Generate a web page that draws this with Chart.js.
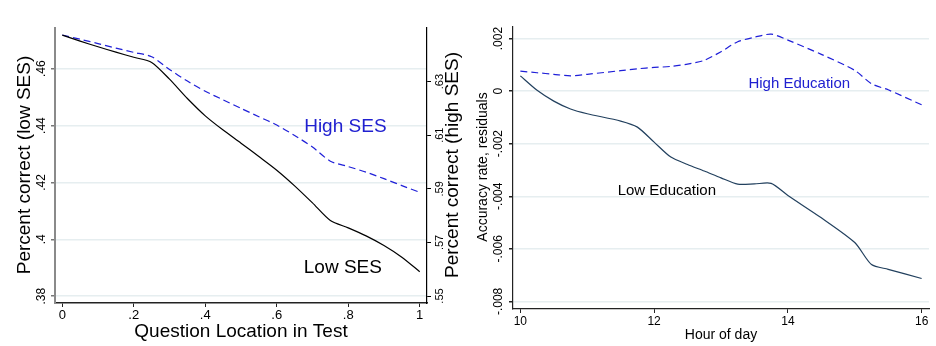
<!DOCTYPE html>
<html>
<head>
<meta charset="utf-8">
<script src="https://cdn.jsdelivr.net/npm/chart.js@4.4.1/dist/chart.umd.min.js"></script>
<style>
  body { margin: 0; background: #fff; }
  #wrap { position: relative; width: 936px; height: 346px; }
  canvas { position: absolute; top: 0; }
</style>
</head>
<body>
<div id="wrap">
  <canvas id="left" width="468" height="346" style="left:0"></canvas>
  <canvas id="right" width="468" height="346" style="left:468px"></canvas>
</div>
<script>
// left panel: question location in test
const qLoc = [0, .05, .1, .15, .2, .25, .3, .35, .4, .45, .5, .55, .6, .65, .7, .75, .8, .85, .9, .95, 1];
const lowSES = [.4718, .4697, .4677, .4658, .4640, .4622, .4563, .4495, .4434, .4384, .4338, .4291, .4243, .4188, .4128, .4066, .4040, .4012, .3978, .3937, .3886];
const highSES = [.6474, .6458, .6442, .6425, .6409, .6393, .6345, .6302, .6264, .6232, .6200, .6169, .6138, .6099, .6056, .6003, .5983, .5962, .5938, .5912, .5887];
const qTicks = [0, .2, .4, .6, .8, 1];
const qTickLabels = ['0', '.2', '.4', '.6', '.8', '1'];
const lowTicks = [.38, .4, .42, .44, .46];
const lowTickLabels = ['.38', '.4', '.42', '.44', '.46'];
const highTicks = [.55, .57, .59, .61, .63];
const highTickLabels = ['.55', '.57', '.59', '.61', '.63'];

// right panel: hour of day
const hours = [10, 10.25, 10.5, 10.75, 11, 11.5, 11.75, 12, 12.25, 12.5, 12.75, 13, 13.25, 13.5, 13.75, 14, 14.5, 15, 15.25, 15.5, 16];
const lowEdu = [.00058, .00003, -.00038, -.00068, -.00086, -.00114, -.00137, -.00194, -.00251, -.00279, -.00304, -.00330, -.00354, -.00353, -.00351, -.00397, -.00482, -.00576, -.00660, -.00678, -.00713];
const highEdu = [.00076, .00070, .00064, .00058, .00064, .00078, .00085, .00090, .00094, .00103, .00117, .00150, .00188, .00205, .00217, .00194, .00140, .00079, .00028, .00005, -.00052];
const hourTicks = [10, 12, 14, 16];
const hourTickLabels = ['10', '12', '14', '16'];
const resTicks = [-.008, -.006, -.004, -.002, 0, .002];
const resTickLabels = ['-.008', '-.006', '-.004', '-.002', '0', '.002'];

const FONT = '"Liberation Sans", Arial, Helvetica, sans-serif';
const GRID = '#e6eef0';

// draws rotated tick labels, axis titles and in-plot notes (Stata style)
const stataText = {
  id: 'stataText',
  afterDraw(chart, args, opts) {
    const ctx = chart.ctx;
    ctx.save();
    ctx.textAlign = 'center';
    ctx.textBaseline = 'middle';
    (opts.ticks || []).forEach(t => {
      const sc = chart.scales[t.axis];
      ctx.font = t.size + 'px ' + FONT;
      ctx.fillStyle = '#000';
      t.values.forEach((v, i) => {
        const p = sc.getPixelForValue(v);
        ctx.save();
        if (sc.isHorizontal()) {
          ctx.translate(p, t.pos);
        } else {
          ctx.translate(t.pos, p);
          ctx.rotate(-Math.PI / 2);
        }
        ctx.fillText(t.labels[i], 0, 0);
        ctx.restore();
      });
    });
    (opts.titles || []).forEach(t => {
      ctx.save();
      ctx.font = t.size + 'px ' + FONT;
      ctx.fillStyle = '#000';
      ctx.translate(t.x, t.y);
      if (t.rot) ctx.rotate(-Math.PI / 2);
      ctx.fillText(t.text, 0, 0);
      ctx.restore();
    });
    (opts.notes || []).forEach(n => {
      ctx.font = n.size + 'px ' + FONT;
      ctx.fillStyle = n.color;
      ctx.fillText(n.text, chart.scales.x.getPixelForValue(n.x), chart.scales[n.axis].getPixelForValue(n.y));
    });
    ctx.restore();
  }
};

function fixTicks(vals) {
  return sc => { sc.ticks = vals.map(v => ({ value: v })); };
}

function pts(xs, ys) {
  return xs.map((x, i) => ({ x: x, y: ys[i] }));
}

new Chart(document.getElementById('left'), {
  type: 'line',
  data: {
    datasets: [
      {
        data: pts(qLoc, lowSES),
        yAxisID: 'y',
        borderColor: '#000',
        borderWidth: 1.2,
        pointRadius: 0,
        tension: 0.25,
      },
      {
        data: pts(qLoc, highSES),
        yAxisID: 'y2',
        borderColor: '#1f1fd8',
        borderWidth: 1.2,
        borderDash: [7, 4],
        pointRadius: 0,
        tension: 0.25,
      },
    ],
  },
  options: {
    responsive: false,
    devicePixelRatio: 1,
    animation: false,
    layout: { padding: { top: 28, left: 0, right: 0, bottom: 0 } },
    plugins: {
      legend: { display: false },
      tooltip: { enabled: false },
      stataText: {
        ticks: [
          { axis: 'x', values: qTicks, labels: qTickLabels, pos: 315, size: 13 },
          { axis: 'y', values: lowTicks, labels: lowTickLabels, pos: 42, size: 12 },
          { axis: 'y2', values: highTicks, labels: highTickLabels, pos: 440, size: 11 },
        ],
        titles: [
          { text: 'Question Location in Test', x: 241, y: 332, size: 19 },
          { text: 'Percent correct (low SES)', x: 25, y: 165, size: 19, rot: true },
          { text: 'Percent correct (high SES)', x: 453, y: 165, size: 19, rot: true },
        ],
        notes: [
          { text: 'High SES', x: .792, y: .4395, axis: 'y', color: '#2020d0', size: 19 },
          { text: 'Low SES', x: .785, y: .3899, axis: 'y', color: '#000', size: 19 },
        ],
      },
    },
    scales: {
      x: {
        type: 'linear',
        min: -0.0204,
        max: 1.0204,
        afterBuildTicks: fixTicks(qTicks),
        afterFit: sc => { sc.height = 43; },
        ticks: { display: false },
        grid: { drawOnChartArea: false, tickLength: 4, tickColor: '#222', color: GRID },
        border: { color: '#222', width: 1.5 },
      },
      y: {
        type: 'linear',
        position: 'left',
        min: .3776,
        max: .4743,
        afterBuildTicks: fixTicks(lowTicks),
        afterFit: sc => { sc.width = 55; },
        ticks: { display: false },
        grid: { color: GRID, lineWidth: 1.5, tickLength: 4, tickColor: '#777' },
        border: { color: '#8a8a8a', width: 2 },
      },
      y2: {
        type: 'linear',
        position: 'right',
        min: .5474,
        max: .65,
        afterBuildTicks: fixTicks(highTicks),
        afterFit: sc => { sc.width = 41; },
        ticks: { display: false },
        grid: { drawOnChartArea: false, tickLength: 4, tickColor: '#000' },
        border: { color: '#000', width: 1.2 },
      },
    },
  },
  plugins: [stataText],
});

new Chart(document.getElementById('right'), {
  type: 'line',
  data: {
    datasets: [
      {
        data: pts(hours, highEdu),
        borderColor: '#1f1fd8',
        borderWidth: 1.2,
        borderDash: [7, 4],
        pointRadius: 0,
        tension: 0.25,
      },
      {
        data: pts(hours, lowEdu),
        borderColor: '#22405e',
        borderWidth: 1.2,
        pointRadius: 0,
        tension: 0.25,
      },
    ],
  },
  options: {
    responsive: false,
    devicePixelRatio: 1,
    animation: false,
    layout: { padding: { top: 27, left: 0, right: 7, bottom: 0 } },
    plugins: {
      legend: { display: false },
      tooltip: { enabled: false },
      stataText: {
        ticks: [
          { axis: 'x', values: hourTicks, labels: hourTickLabels, pos: 322, size: 12 },
          { axis: 'y', values: resTicks, labels: resTickLabels, pos: 31, size: 12 },
        ],
        titles: [
          { text: 'Hour of day', x: 253, y: 335, size: 14 },
          { text: 'Accuracy rate, residuals', x: 15, y: 167, size: 14, rot: true },
        ],
        notes: [
          { text: 'High Education', x: 14.17, y: .00028, axis: 'y', color: '#2020d0', size: 15 },
          { text: 'Low Education', x: 12.19, y: -.00378, axis: 'y', color: '#000', size: 15 },
        ],
      },
    },
    scales: {
      x: {
        type: 'linear',
        min: 9.89,
        max: 16.11,
        afterBuildTicks: fixTicks(hourTicks),
        afterFit: sc => { sc.height = 37; },
        ticks: { display: false },
        grid: { drawOnChartArea: false, tickLength: 4, tickColor: '#222', color: GRID },
        border: { color: '#222', width: 1.2 },
      },
      y: {
        type: 'linear',
        position: 'left',
        min: -.00829,
        max: .00244,
        afterBuildTicks: fixTicks(resTicks),
        afterFit: sc => { sc.width = 45; },
        ticks: { display: false },
        grid: { color: GRID, lineWidth: 1.5, tickLength: 4, tickColor: '#222' },
        border: { color: '#222', width: 1.2 },
      },
    },
  },
  plugins: [stataText],
});
</script>
</body>
</html>
